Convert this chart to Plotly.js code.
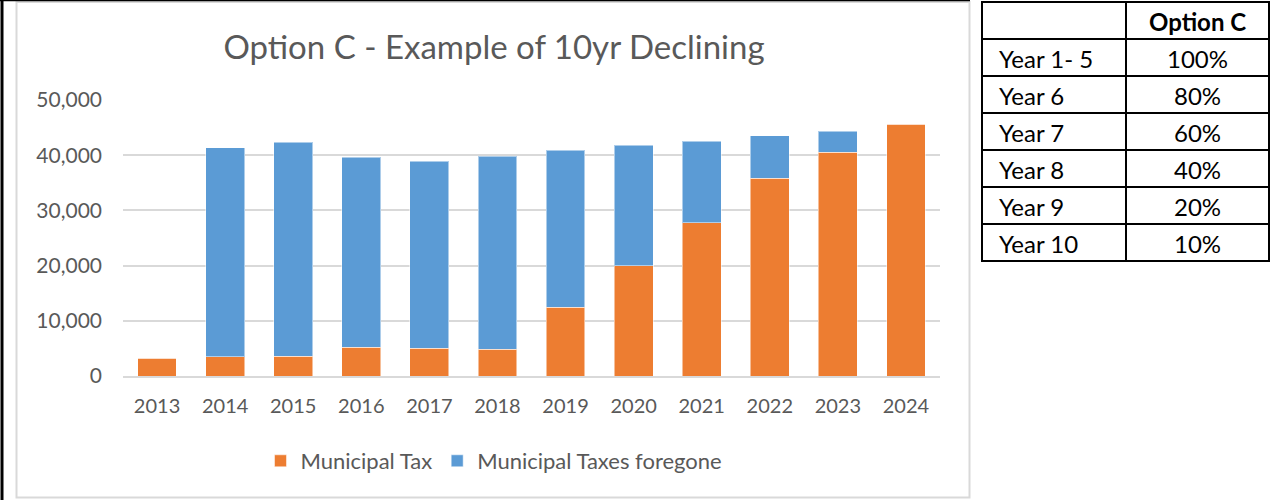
<!DOCTYPE html>
<html>
<head>
<meta charset="utf-8">
<script src="https://cdn.plot.ly/plotly-3.0.1.min.js"></script>
<style>html,body{margin:0;padding:0;background:#fff;}#chart{width:1279px;height:500px;}</style>
</head>
<body>
<div id="chart"></div>
<script>
const years = ['2013','2014','2015','2016','2017','2018','2019','2020','2021','2022','2023','2024'];
const municipalTax = [3200, 3500, 3560, 5200, 5070, 4840, 12440, 19930, 27720, 35870, 40520, 45650];
const taxesForegone = [0, 37860, 38830, 34420, 33880, 35010, 28500, 21860, 14850, 7610, 3810, 0];
const yTicks = [0, 10000, 20000, 30000, 40000, 50000];
const tableHeader = ['', 'Option C'];
const tableYears = ['Year 1- 5', 'Year 6', 'Year 7', 'Year 8', 'Year 9', 'Year 10'];
const tablePct = ['100%', '80%', '60%', '40%', '20%', '10%'];

const W = 1279, H = 500;
const px = v => v / W;
const py = v => 1 - v / H;
const grey = '#595959';
const font = 'Lato, "Open Sans", sans-serif';

// table geometry (pixels)
const tL = 982, tM = 1126, tR = 1269, tT = 2, rowH = 37;
const nRows = tableYears.length + 1;
const tB = tT + rowH * nRows;

const shapes = [
  {type:'rect', xref:'paper', yref:'paper', x0:px(16.5), x1:px(969.5), y0:py(497.5), y1:py(2),
   line:{color:'#d9d9d9', width:2}, fillcolor:'rgba(0,0,0,0)', layer:'below'},
  {type:'line', xref:'paper', yref:'paper', x0:px(2), x1:px(2), y0:py(0), y1:py(500),
   line:{color:'#000', width:3}},
  {type:'line', xref:'paper', yref:'paper', x0:px(0), x1:px(970), y0:py(0.5), y1:py(0.5),
   line:{color:'#000', width:1.5}},
  {type:'rect', xref:'paper', yref:'paper', x0:px(tL), x1:px(tR), y0:py(tB), y1:py(tT),
   line:{color:'#000', width:2}, fillcolor:'rgba(0,0,0,0)'},
  {type:'line', xref:'paper', yref:'paper', x0:px(tM), x1:px(tM), y0:py(tB), y1:py(tT),
   line:{color:'#000', width:2}}
];
for (let i = 1; i < nRows; i++) {
  shapes.push({type:'line', xref:'paper', yref:'paper', x0:px(tL), x1:px(tR),
               y0:py(tT + rowH * i), y1:py(tT + rowH * i), line:{color:'#000', width:2}});
}

const col1 = [tableHeader[0]].concat(tableYears);
const col2 = ['<b>' + tableHeader[1] + '</b>'].concat(tablePct);
const annotations = [];
for (let i = 0; i < nRows; i++) {
  const yc = py(tT + rowH * i + rowH / 2 + 1);
  if (col1[i]) annotations.push({xref:'paper', yref:'paper', x:px(997), y:yc, xanchor:'left', yanchor:'middle',
    text:col1[i], showarrow:false, font:{family:font, size:24, color:'#000'}});
  annotations.push({xref:'paper', yref:'paper', x:px((tM + tR) / 2), y:yc, xanchor:'center', yanchor:'middle',
    text:col2[i], showarrow:false, font:{family:font, size:24, color:'#000'}});
}

const traces = [
  {type:'bar', name:'Municipal Tax', x:years, y:municipalTax,
   marker:{color:'#ED7D31', line:{color:'rgba(255,255,255,0.5)', width:1}}, hoverinfo:'x+y'},
  {type:'bar', name:'Municipal Taxes foregone', x:years, y:taxesForegone,
   marker:{color:'#5B9BD5', line:{color:'rgba(255,255,255,0.5)', width:1}}, hoverinfo:'x+y'}
];

const layout = {
  width: W, height: H,
  margin:{l:0, r:0, t:0, b:0, pad:0},
  paper_bgcolor:'#fff', plot_bgcolor:'#fff',
  font:{family:font, color:grey},
  barmode:'stack', bargap:0.43,
  showlegend:true,
  title:{text:'Option C - Example of 10yr Declining', x:px(494), xanchor:'center',
         y:py(47), yanchor:'middle', xref:'paper', yref:'paper',
         font:{family:font, size:33, color:grey}},
  legend:{orientation:'h', x:px(494), xanchor:'center', y:py(461), yanchor:'middle',
          traceorder:'normal', font:{family:font, size:22, color:grey}, itemwidth:30},
  xaxis:{domain:[px(123), px(940)], type:'category', showgrid:false, showline:true,
         linecolor:'#d9d9d9', linewidth:2, ticks:'', ticklabelstandoff:11,
         tickfont:{family:font, size:20, color:grey}, fixedrange:true},
  yaxis:{domain:[py(376), py(100)], range:[0, 50000], tickvals:yTicks, tickformat:',',
         showgrid:true, gridcolor:'#d9d9d9', gridwidth:2, zeroline:false, showline:false,
         ticks:'', ticklabelstandoff:20, tickfont:{family:font, size:21, color:grey}, fixedrange:true},
  shapes: shapes,
  annotations: annotations
};

Plotly.newPlot('chart', traces, layout, {displayModeBar:false, staticPlot:true});
</script>
</body>
</html>
